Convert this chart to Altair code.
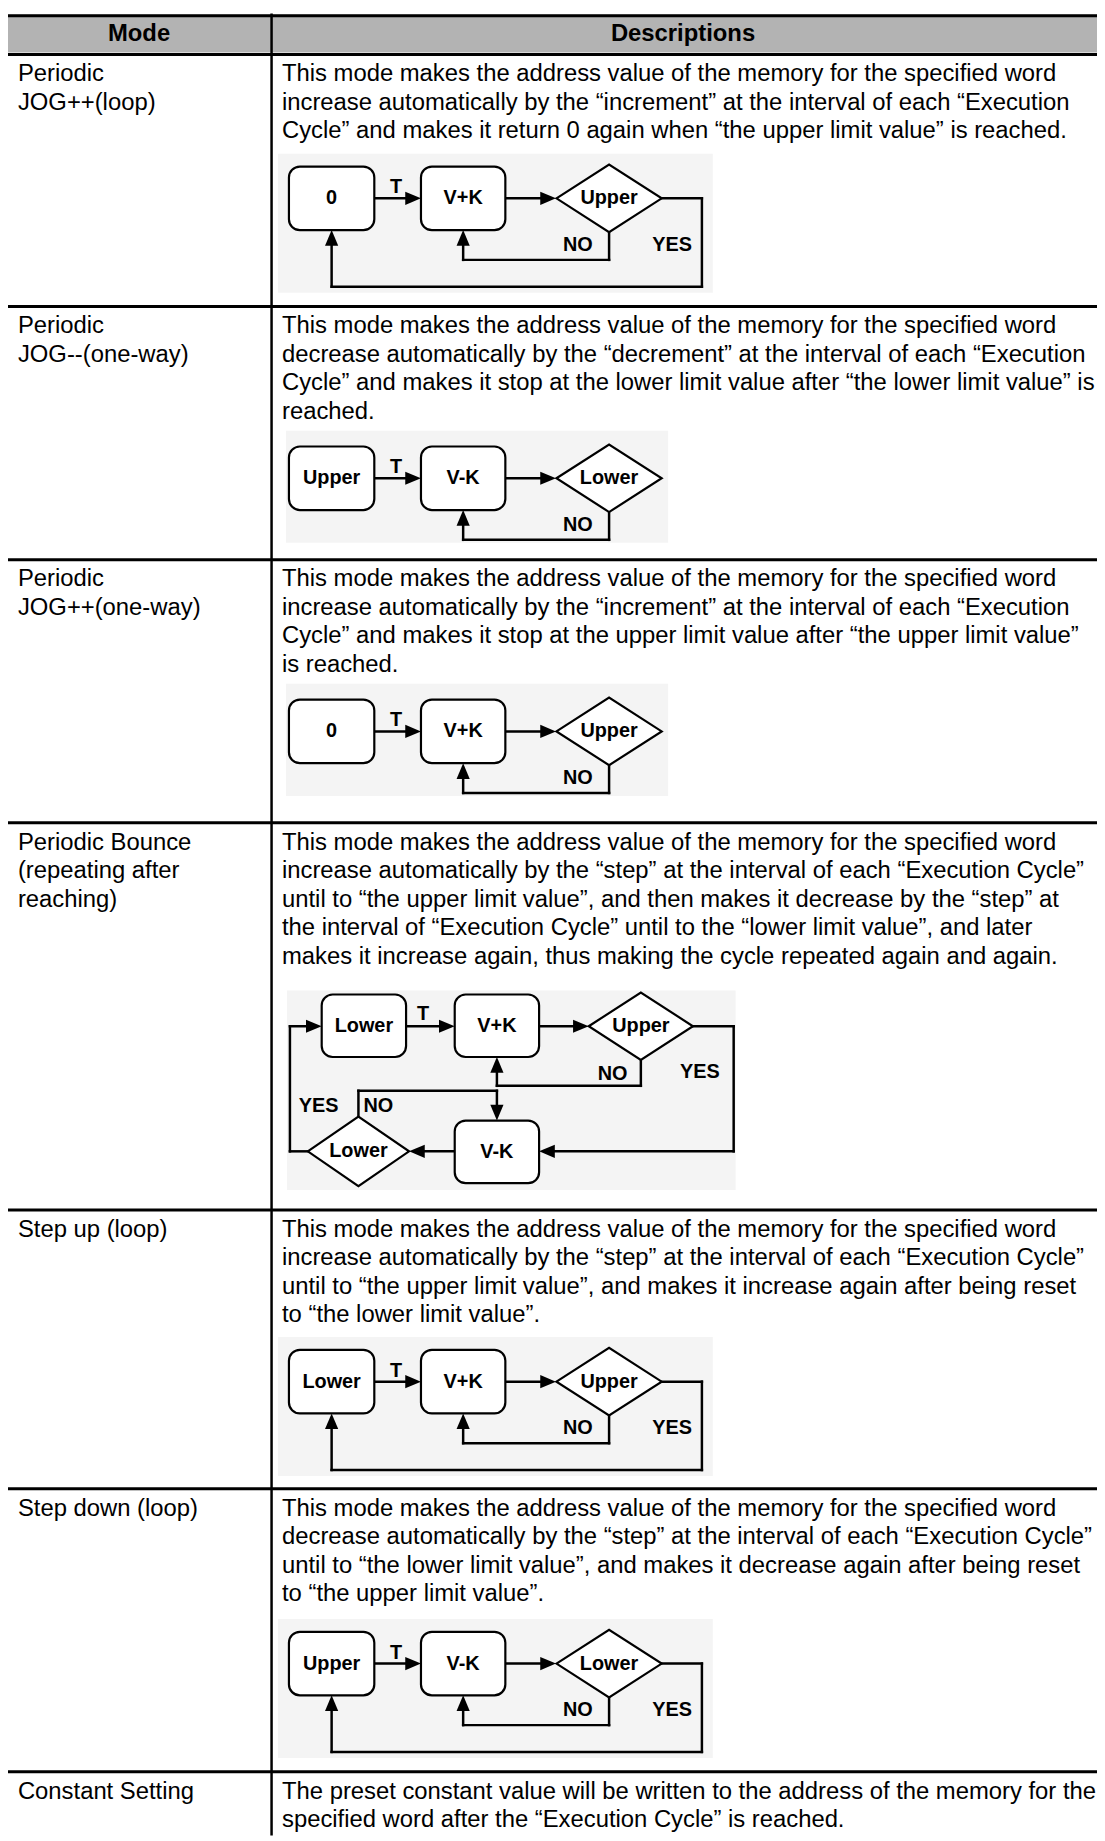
import altair as alt
import pandas as pd

FONT = "Liberation Sans"

# ---------------- data ----------------
HEADERS = ["Mode", "Descriptions"]

MODES = [
    ["Periodic", "JOG++(loop)"],
    ["Periodic", "JOG--(one-way)"],
    ["Periodic", "JOG++(one-way)"],
    ["Periodic Bounce", "(repeating after", "reaching)"],
    ["Step up (loop)"],
    ["Step down (loop)"],
    ["Constant Setting"],
]

DESCRIPTIONS = [
    ["This mode makes the address value of the memory for the specified word",
     "increase automatically by the \u201cincrement\u201d at the interval of each \u201cExecution",
     "Cycle\u201d and makes it return 0 again when \u201cthe upper limit value\u201d is reached."],
    ["This mode makes the address value of the memory for the specified word",
     "decrease automatically by the \u201cdecrement\u201d at the interval of each \u201cExecution",
     "Cycle\u201d and makes it stop at the lower limit value after \u201cthe lower limit value\u201d is",
     "reached."],
    ["This mode makes the address value of the memory for the specified word",
     "increase automatically by the \u201cincrement\u201d at the interval of each \u201cExecution",
     "Cycle\u201d and makes it stop at the upper limit value after \u201cthe upper limit value\u201d",
     "is reached."],
    ["This mode makes the address value of the memory for the specified word",
     "increase automatically by the \u201cstep\u201d at the interval of each \u201cExecution Cycle\u201d",
     "until to \u201cthe upper limit value\u201d, and then makes it decrease by the \u201cstep\u201d at",
     "the interval of \u201cExecution Cycle\u201d until to the \u201clower limit value\u201d, and later",
     "makes it increase again, thus making the cycle repeated again and again."],
    ["This mode makes the address value of the memory for the specified word",
     "increase automatically by the \u201cstep\u201d at the interval of each \u201cExecution Cycle\u201d",
     "until to \u201cthe upper limit value\u201d, and makes it increase again after being reset",
     "to \u201cthe lower limit value\u201d."],
    ["This mode makes the address value of the memory for the specified word",
     "decrease automatically by the \u201cstep\u201d at the interval of each \u201cExecution Cycle\u201d",
     "until to \u201cthe lower limit value\u201d, and makes it decrease again after being reset",
     "to \u201cthe upper limit value\u201d."],
    ["The preset constant value will be written to the address of the memory for the",
     "specified word after the \u201cExecution Cycle\u201d is reached."],
]

DIAGRAM_TYPES = ["loop", "oneway", "oneway", "bounce", "loop", "loop"]
DIAGRAM_NODES = [
    ["0", "V+K", "Upper"],
    ["Upper", "V-K", "Lower"],
    ["0", "V+K", "Upper"],
    ["Lower", "V+K", "Upper", "V-K", "Lower"],
    ["Lower", "V+K", "Upper"],
    ["Upper", "V-K", "Lower"],
]

# ---------------- layout ----------------
PAGE_W, PAGE_H, MARGIN = 1105, 1841, 8
ROW_TOPS = [48, 302, 557, 822, 1212, 1493, 1778]
DIAGRAM_TOPS = [161, 443, 698, 995, 1353, 1637]
LINE_STEP = 28.7
FIRST_LINE = 20
MODE_X, DESC_X, DIVIDER_X = 18, 284, 273.5

segs, rects, boxes, diamonds, heads, labels, texts = [], [], [], [], [], [], []


def seg(x, y, x2, y2, w=2.5):
    segs.append(dict(x=x, y=y, x2=x2, y2=y2, w=w))


ARROW = {
    "right": "M0,0 L-1,-0.42 L-1,0.42 Z",
    "left": "M0,0 L1,-0.42 L1,0.42 Z",
    "up": "M0,0 L-0.42,1 L0.42,1 Z",
    "down": "M0,0 L-0.42,-1 L0.42,-1 Z",
}


def head(x, y, d):
    heads.append(dict(x=x, y=y, shape=ARROW[d]))


def box(x0, x1, y0, y1, text):
    boxes.append(dict(x=x0, x2=x1, y=y0, y2=y1))
    labels.append(dict(x=(x0 + x1) / 2, y=(y0 + y1) / 2, text=text))


def diamond(cx, cy, hw, hh, text):
    r = hh / hw
    diamonds.append(dict(x=cx, y=cy, size=(2 * hw) ** 2,
                         shape=f"M-1,0 L0,-{r:.3f} L1,0 L0,{r:.3f} Z"))
    labels.append(dict(x=cx, y=cy, text=text))


def lab(x, y, text):
    labels.append(dict(x=x, y=y, text=text))


# table
rects.append(dict(x=4, x2=PAGE_W, y=8, y2=46, fill="#b3b3b3"))
seg(8, 9, PAGE_W, 9, 3)
for t in ROW_TOPS:
    seg(8, t, PAGE_W, t, 3)
seg(DIVIDER_X, 8, DIVIDER_X, PAGE_H, 2.5)

texts.append(dict(x=140, y=28, text=HEADERS[0], bold=True, align="center"))
texts.append(dict(x=688, y=28, text=HEADERS[1], bold=True, align="center"))
for i, (mode, desc) in enumerate(zip(MODES, DESCRIPTIONS)):
    y0 = ROW_TOPS[i] + FIRST_LINE
    for j, s in enumerate(mode):
        texts.append(dict(x=MODE_X, y=y0 + j * LINE_STEP, text=s, bold=False, align="left"))
    for j, s in enumerate(desc):
        texts.append(dict(x=DESC_X, y=y0 + j * LINE_STEP, text=s, bold=False, align="left"))

# diagrams
for kind, t, nodes in zip(DIAGRAM_TYPES, DIAGRAM_TOPS, DIAGRAM_NODES):
    if kind in ("loop", "oneway"):
        cy = t + 32
        if kind == "loop":
            rects.append(dict(x=280, x2=718, y=t - 13, y2=t + 127, fill="#f4f4f4"))
        else:
            rects.append(dict(x=288, x2=673, y=t - 16, y2=t + 97, fill="#f4f4f4"))
        box(291, 377, t, t + 64, nodes[0])
        box(424, 509, t, t + 64, nodes[1])
        diamond(613.5, cy, 53, 34, nodes[2])
        seg(377, cy, 410, cy); head(424, cy, "right")
        seg(509, cy, 546, cy); head(560, cy, "right")
        lab(399, cy - 11, "T")
        seg(613.5, cy + 34, 613.5, t + 94)
        seg(613.5, t + 94, 466.5, t + 94)
        seg(466.5, t + 94, 466.5, t + 78); head(466.5, t + 64, "up")
        lab(582, t + 79, "NO")
        if kind == "loop":
            seg(667, cy, 707, cy)
            seg(707, cy, 707, t + 121)
            seg(707, t + 121, 334, t + 121)
            seg(334, t + 121, 334, t + 78); head(334, t + 64, "up")
            lab(677, t + 79, "YES")
    else:
        cy1, cy2 = t + 32, t + 158
        rects.append(dict(x=289, x2=741, y=t - 4, y2=t + 197, fill="#f4f4f4"))
        box(324, 409, t, t + 63, nodes[0])
        box(458, 543, t, t + 63, nodes[1])
        diamond(645.5, cy1, 52.5, 34, nodes[2])
        box(458, 543, t + 127, t + 190, nodes[3])
        diamond(361, cy2, 51, 35, nodes[4])
        seg(409, cy1, 444, cy1); head(458, cy1, "right")
        lab(426, cy1 - 12, "T")
        seg(543, cy1, 579, cy1); head(593, cy1, "right")
        seg(698, cy1, 739, cy1)
        seg(739, cy1, 739, cy2)
        seg(739, cy2, 557, cy2); head(543, cy2, "left")
        seg(645.5, cy1 + 34, 645.5, t + 92)
        seg(645.5, t + 92, 500.5, t + 92)
        seg(500.5, t + 92, 500.5, t + 77); head(500.5, t + 63, "up")
        seg(361, cy2 - 35, 361, t + 97)
        seg(361, t + 97, 500.5, t + 97)
        seg(500.5, t + 97, 500.5, t + 113); head(500.5, t + 127, "down")
        seg(458, cy2, 426, cy2); head(412, cy2, "left")
        seg(310, cy2, 292, cy2)
        seg(292, cy2, 292, cy1)
        seg(292, cy1, 310, cy1); head(324, cy1, "right")
        lab(617, t + 80, "NO")
        lab(705, t + 78, "YES")
        lab(321, t + 112, "YES")
        lab(381, t + 112, "NO")

# ---------------- chart ----------------
XS = alt.Scale(domain=[MARGIN, PAGE_W], nice=False, zero=False)
YS = alt.Scale(domain=[MARGIN, PAGE_H], nice=False, zero=False, reverse=True)


def X(f="x"):
    return alt.X(f"{f}:Q", scale=XS, axis=None)


def Y(f="y"):
    return alt.Y(f"{f}:Q", scale=YS, axis=None)


bg = alt.Chart(pd.DataFrame(rects)).mark_rect().encode(
    x=X(), x2="x2:Q", y=Y(), y2="y2:Q",
    fill=alt.Fill("fill:N", scale=None))

lines = alt.Chart(pd.DataFrame(segs)).mark_rule(color="black", strokeCap="square").encode(
    x=X(), x2="x2:Q", y=Y(), y2="y2:Q",
    strokeWidth=alt.StrokeWidth("w:Q", scale=None))

box_layer = alt.Chart(pd.DataFrame(boxes)).mark_rect(
    cornerRadius=11, fill="white", stroke="black", strokeWidth=2.2).encode(
    x=X(), x2="x2:Q", y=Y(), y2="y2:Q")

dia_layer = alt.Chart(pd.DataFrame(diamonds)).mark_point(
    filled=True, color="white", stroke="black", strokeWidth=2.2, opacity=1).encode(
    x=X(), y=Y(),
    shape=alt.Shape("shape:N", scale=None),
    size=alt.Size("size:Q", scale=None))

head_layer = alt.Chart(pd.DataFrame(heads)).mark_point(
    filled=True, color="black", opacity=1, size=1000).encode(
    x=X(), y=Y(), shape=alt.Shape("shape:N", scale=None))

lab_layer = alt.Chart(pd.DataFrame(labels)).mark_text(
    font=FONT, fontSize=20, fontWeight="bold", color="black",
    align="center", baseline="middle").encode(
    x=X(), y=Y(), text="text:N")

tdf = pd.DataFrame(texts)
body = alt.Chart(tdf[~tdf.bold]).mark_text(
    font=FONT, fontSize=24, color="black", align="left", baseline="middle").encode(
    x=X(), y=Y(), text="text:N")
hdr = alt.Chart(tdf[tdf.bold]).mark_text(
    font=FONT, fontSize=24, fontWeight="bold", color="black",
    align="center", baseline="middle").encode(
    x=X(), y=Y(), text="text:N")

chart = alt.layer(bg, lines, box_layer, dia_layer, head_layer, lab_layer, body, hdr).properties(
    width=PAGE_W - MARGIN, height=PAGE_H - MARGIN,
    autosize=alt.AutoSizeParams(type="none"), padding=0,
    background="white",
).configure_view(stroke=None)

chart.save("out.html", embed_options={"renderer": "svg", "actions": False})
